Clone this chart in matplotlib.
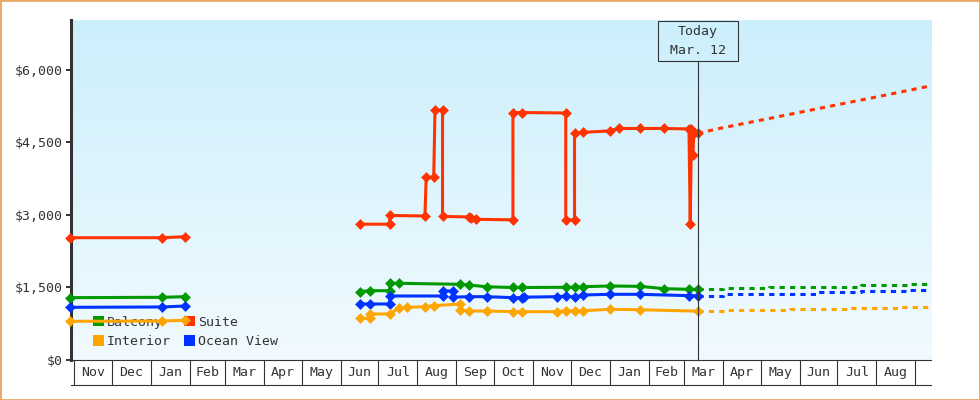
import matplotlib
matplotlib.use("Agg")
import matplotlib.pyplot as plt
import matplotlib.dates as mdates
from matplotlib.patches import Patch, Rectangle
import numpy as np
import pandas as pd

plt.rcParams['font.family'] = ['DejaVu Sans Mono']

GAP = np.nan

# price history (a gap between the two sailing seasons)
suite_dates = ["2012-10-29", "2013-01-10", "2013-01-28", "2013-03-01",
               "2013-06-16", "2013-07-10", "2013-07-10", "2013-08-07", "2013-08-08", "2013-08-14",
               "2013-08-15", "2013-08-21", "2013-08-21", "2013-09-11", "2013-09-13", "2013-09-17",
               "2013-10-16", "2013-10-16", "2013-10-23", "2013-11-27", "2013-11-27", "2013-12-04",
               "2013-12-04", "2013-12-11", "2014-01-01", "2014-01-08", "2014-01-25", "2014-02-13",
               "2014-03-05", "2014-03-06", "2014-03-07", "2014-03-08", "2014-03-09", "2014-03-12"]
suite_prices = [2530, 2530, 2550, GAP,
                2810, 2810, 2990, 2980, 3780, 3780,
                5170, 5170, 2970, 2960, 2930, 2910,
                2900, 5120, 5120, 5110, 2900, 2900,
                4700, 4710, 4740, 4790, 4790, 4790,
                4780, 2810, 4780, 4240, 4700, 4690]

balcony_dates = ["2012-10-29", "2013-01-10", "2013-01-28", "2013-03-01",
                 "2013-06-16", "2013-06-24", "2013-07-10", "2013-07-10", "2013-07-17", "2013-09-04",
                 "2013-09-11", "2013-09-25", "2013-10-16", "2013-10-23",
                 "2013-11-27", "2013-12-04", "2013-12-11", "2014-01-01", "2014-01-25", "2014-02-13",
                 "2014-03-05", "2014-03-12"]
balcony_prices = [1290, 1297, 1310, GAP,
                  1413, 1434, 1434, 1587, 1587, 1566,
                  1552, 1515, 1500, 1500,
                  1504, 1504, 1517, 1531, 1524, 1476,
                  1462, 1462]

ocean_dates = ["2012-10-29", "2013-01-10", "2013-01-28", "2013-03-01",
               "2013-06-16", "2013-06-24", "2013-07-10", "2013-07-10", "2013-08-21", "2013-08-21",
               "2013-08-29", "2013-08-29", "2013-09-11", "2013-09-25", "2013-10-16", "2013-10-23",
               "2013-10-25",
               "2013-11-20", "2013-11-27", "2013-12-04", "2013-12-11", "2014-01-01", "2014-01-25",
               "2014-03-05", "2014-03-12"]
ocean_prices = [1090, 1097, 1117, GAP,
                1159, 1159, 1159, 1324, 1324, 1428,
                1428, 1300, 1310, 1310, 1290, 1290,
                1300,
                1310, 1324, 1300, 1345, 1359, 1359,
                1331, 1331]

interior_dates = ["2012-10-29", "2013-01-10", "2013-01-28", "2013-03-01",
                  "2013-06-16", "2013-06-24", "2013-06-24", "2013-07-10", "2013-07-17", "2013-07-24",
                  "2013-08-07", "2013-08-14", "2013-09-04", "2013-09-04", "2013-09-11", "2013-09-25",
                  "2013-10-16", "2013-10-23",
                  "2013-11-20", "2013-11-27", "2013-12-04", "2013-12-11", "2014-01-01", "2014-01-25",
                  "2014-03-12"]
interior_prices = [800, 807, 821, GAP,
                   862, 862, 952, 952, 1069, 1090,
                   1103, 1124, 1159, 1034, 1014, 1014,
                   1000, 1000,
                   1000, 1020, 1014, 1020, 1048, 1040,
                   1010]

# forecast after today
suite_fc_dates = ["2014-03-12", "2014-04-01", "2014-05-01", "2014-06-01",
                  "2014-07-01", "2014-08-01", "2014-09-01", "2014-09-13"]
suite_fc = [4690, 4806, 4961, 5123, 5281, 5441, 5607, 5670]
balcony_fc_dates = ["2014-03-12", "2014-04-01", "2014-05-08", "2014-07-20", "2014-08-26", "2014-09-13"]
balcony_fc = [1462, 1483, 1510, 1545, 1566, 1566]
ocean_fc_dates = ["2014-03-12", "2014-04-01", "2014-06-16", "2014-07-20", "2014-08-26", "2014-09-13"]
ocean_fc = [1331, 1359, 1400, 1421, 1442, 1442]
interior_fc_dates = ["2014-03-12", "2014-04-05", "2014-05-24", "2014-07-11", "2014-08-20", "2014-09-13"]
interior_fc = [1010, 1028, 1048, 1069, 1090, 1090]

today = "2014-03-12"
x_start, x_end = "2012-10-29 12:00", "2014-09-13 12:00"
y_ticks = [0, 1500, 3000, 4500, 6000]

GREEN, RED, ORANGE, BLUE = "#009900", "#ff3300", "#ffa500", "#0033ff"
DARK = "#333333"


def d(dates):
    return mdates.date2num(pd.to_datetime(dates))


fig = plt.figure(figsize=(9.8, 4), dpi=100)
ax = fig.add_axes([71 / 980, 40 / 400, 860 / 980, 340 / 400])

# background gradient
grad = np.linspace(0, 1, 256)[:, None, None]
top = np.array([204, 239, 252]) / 255
bottom = np.array([241, 250, 255]) / 255
ax.imshow(top + (bottom - top) * grad, extent=[0, 1, 0, 1], transform=ax.transAxes,
          aspect="auto", zorder=0, origin="upper")

series = [
    (suite_dates, suite_prices, suite_fc_dates, suite_fc, RED, "default"),
    (balcony_dates, balcony_prices, balcony_fc_dates, balcony_fc, GREEN, "steps-post"),
    (ocean_dates, ocean_prices, ocean_fc_dates, ocean_fc, BLUE, "steps-post"),
    (interior_dates, interior_prices, interior_fc_dates, interior_fc, ORANGE, "steps-post"),
]
for hd, hp, fd, fp, col, ds in series:
    ax.plot(d(fd), fp, color=col, lw=2.2, ls=(0, (1.7, 1.7)), drawstyle=ds,
            zorder=3, clip_on=False)
    ax.plot(d(hd), hp, color=col, lw=2.2, marker="D", ms=5.2, mew=0.4, mec=col,
            zorder=3, clip_on=False)

ax.set_xlim(d([x_start])[0], d([x_end])[0])
ax.set_ylim(0, 7034)

# axes styling
for s in ["top", "right"]:
    ax.spines[s].set_visible(False)
ax.spines["left"].set_linewidth(2.2)
ax.spines["left"].set_color(DARK)
ax.spines["bottom"].set_linewidth(0.8)
ax.spines["bottom"].set_color(DARK)
ax.set_yticks(y_ticks)
ax.set_yticklabels([f"${v:,}" for v in y_ticks])
ax.tick_params(axis="y", length=3.6, width=1.4, color=DARK, labelcolor=DARK,
               labelsize=9.5, pad=2.5)
ax.set_xticks([])

# month boxes under the axis
xt = ax.get_xaxis_transform()
box_h = 25 / 340
bounds = pd.date_range("2012-11-01", "2014-09-01", freq="MS")
bx = d(bounds)
for b in bx:
    ax.plot([b, b], [0, -box_h], transform=xt, color=DARK, lw=0.8, clip_on=False)
ax.plot(ax.get_xlim(), [-box_h, -box_h], transform=xt, color=DARK, lw=0.8, clip_on=False)
for a, b, m in zip(bx[:-1], bx[1:], bounds[:-1]):
    ax.text((a + b) / 2, -box_h / 2, m.strftime("%b"), transform=xt, ha="center",
            va="center", fontsize=9.5, color=DARK)

# today marker
tx = d([today])[0]
box_bottom = (360 - 61) / 340
ax.plot([tx, tx], [0, box_bottom], transform=xt, color=DARK, lw=0.8, zorder=4)
ax.text(tx, box_bottom + 4.3 / 340, "Today\n Mar. 12 ", transform=xt, ha="center",
        va="bottom", multialignment="center", fontsize=9.5, color=DARK, linespacing=1.55,
        bbox=dict(boxstyle="square,pad=0.32", fc="none", ec=DARK, lw=0.8))

# legend
handles = [Patch(facecolor=GREEN, label="Balcony"), Patch(facecolor=ORANGE, label="Interior"),
           Patch(facecolor=RED, label="Suite"), Patch(facecolor=BLUE, label="Ocean View")]
leg = ax.legend(handles=handles, ncol=2, loc="lower left", bbox_to_anchor=(0.0256, 0.035),
                frameon=False, handlelength=0.8, handleheight=0.8, handletextpad=0.25,
                columnspacing=1.0, borderpad=0, borderaxespad=0, labelspacing=0.5,
                fontsize=9.5)
for t in leg.get_texts():
    t.set_color(DARK)
leg.set_zorder(1)

fig.patches.append(Rectangle((0, 0), 1, 1, transform=fig.transFigure, fill=False,
                             ec="#e8a865", lw=2))

fig.savefig("out.png", dpi=100)
